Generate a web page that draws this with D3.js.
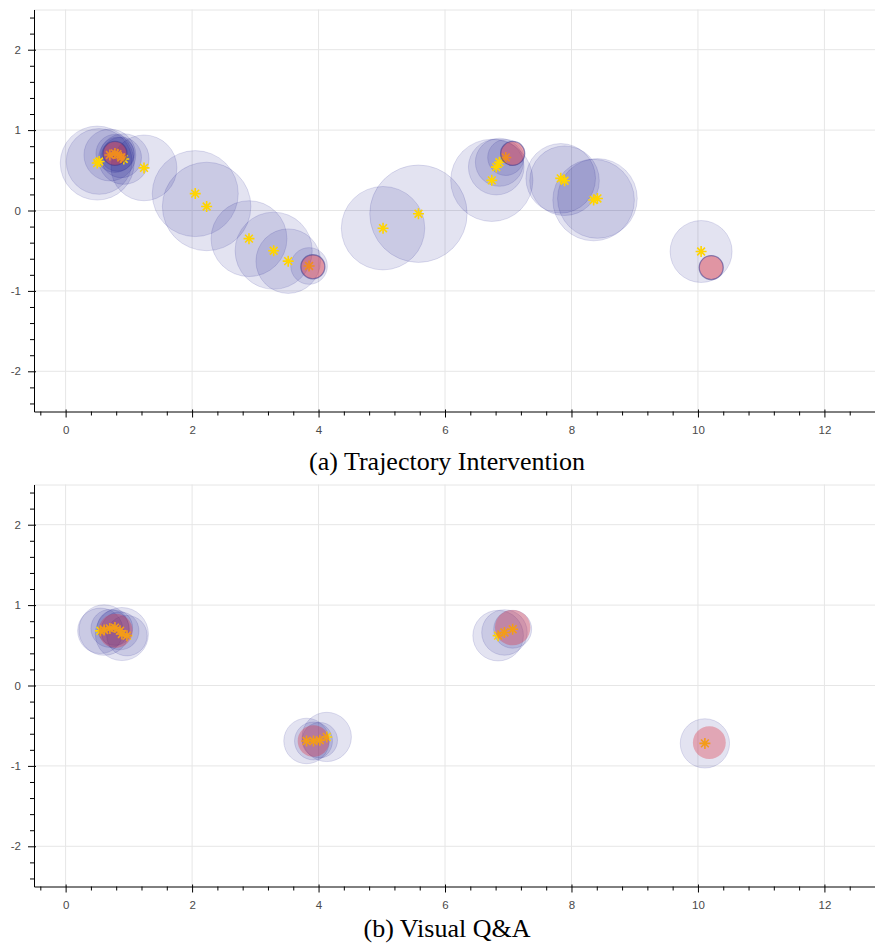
<!DOCTYPE html>
<html>
<head>
<meta charset="utf-8">
<script src="https://cdn.jsdelivr.net/npm/d3@7"></script>
<style>
  body { margin: 0; background: #fff; }
  .tick text { font-family: "Liberation Sans", Arial, sans-serif; font-size: 11.5px; fill: #4a4a4a; }
</style>
</head>
<body>
<div id="canvas"></div>
<script>
// tick labels
const xMajor = [0, 2, 4, 6, 8, 10, 12];
const yMajor = [-2, -1, 0, 1, 2];

// (a) Trajectory Intervention: predicted points + uncertainty radius (x units)
const aStarX = [0.50, 0.53, 0.70, 0.78, 0.82, 0.88, 0.92, 1.24, 2.05, 2.23, 2.90, 3.29, 3.52, 3.85,
                5.02, 5.58, 6.74, 6.81, 6.86, 6.96, 7.83, 7.89, 8.35, 8.41, 10.05];
const aStarY = [0.59, 0.61, 0.69, 0.71, 0.70, 0.66, 0.64, 0.53, 0.21, 0.05, -0.35, -0.50, -0.63, -0.69,
                -0.22, -0.04, 0.375, 0.54, 0.60, 0.66, 0.40, 0.37, 0.13, 0.15, -0.51];
const aRadius = [0.585, 0.52, 0.41, 0.30, 0.27, 0.32, 0.40, 0.52, 0.68, 0.70, 0.60, 0.61, 0.51, 0.29,
                 0.66, 0.77, 0.65, 0.44, 0.38, 0.285, 0.55, 0.55, 0.645, 0.63, 0.49];
const aGoalX = [0.78, 3.91, 7.07, 10.21];
const aGoalY = [0.71, -0.70, 0.71, -0.71];
const aGoalR = [0.19, 0.19, 0.19, 0.19];

// (b) Visual Q&A
const bStarX = [0.55, 0.61, 0.70, 0.78, 0.86, 0.89, 0.97, 3.81, 3.92, 4.02, 4.13, 6.84, 6.94, 7.07, 10.11];
const bStarY = [0.68, 0.69, 0.71, 0.72, 0.68, 0.64, 0.62, -0.69, -0.69, -0.68, -0.64, 0.62, 0.66, 0.70, -0.72];
const bRadius = [0.36, 0.40, 0.30, 0.28, 0.30, 0.42, 0.32, 0.36, 0.30, 0.28, 0.39, 0.40, 0.36, 0.30, 0.39];
const bGoalX = [0.79, 3.92, 7.07, 10.18];
const bGoalY = [0.68, -0.69, 0.72, -0.71];
const bGoalR = [0.27, 0.25, 0.28, 0.26];

const width = 875;
const height = 951;
const svg = d3.select("#canvas").append("svg").attr("width", width).attr("height", height);

const margin = {left: 34, right: 0};
const iwidth = width - margin.left - margin.right;
const iheight = 402;

const x = d3.scaleLinear().domain([-0.5, 12.8]).range([0, iwidth]);
const y = d3.scaleLinear().domain([-2.5, 2.5]).range([iheight, 0]);

const xMinor = d3.range(-0.4, 12.81, 0.4).filter(v => Math.abs(v / 2 - Math.round(v / 2)) > 0.01);
const yMinor = d3.range(-2.4, 2.41, 0.2).filter(v => Math.abs(v - Math.round(v)) > 0.01);

function asterisk(s) {
  let p = "";
  for (let i = 0; i < 4; i++) {
    const a = i * Math.PI / 4;
    const dx = Math.cos(a) * s, dy = Math.sin(a) * s;
    p += `M${-dx},${-dy}L${dx},${dy}`;
  }
  return p;
}

function panel(top, sx, sy, sr, gx, gy, gr, goalStroke, caption, capY) {
  const g = svg.append("g").attr("transform", `translate(${margin.left},${top})`);

  // grid
  g.append("g").selectAll("line").data(xMajor).join("line")
    .attr("x1", d => x(d)).attr("x2", d => x(d)).attr("y1", 0).attr("y2", iheight)
    .attr("stroke", "#e6e6e6");
  g.append("g").selectAll("line").data(yMajor).join("line")
    .attr("x1", 0).attr("x2", iwidth).attr("y1", d => y(d)).attr("y2", d => y(d))
    .attr("stroke", "#e6e6e6");
  g.append("line").attr("x1", 0).attr("x2", iwidth).attr("y1", 0.5).attr("y2", 0.5)
    .attr("stroke", "#e6e6e6");

  const pts = sx.map((v, i) => ({x: v, y: sy[i], r: sr[i]}));
  const goals = gx.map((v, i) => ({x: v, y: gy[i], r: gr[i]}));

  // uncertainty circles
  g.append("g").selectAll("circle").data(pts).join("circle")
    .attr("cx", d => x(d.x)).attr("cy", d => y(d.y))
    .attr("r", d => x(d.r) - x(0))
    .attr("fill", "navy").attr("fill-opacity", 0.11)
    .attr("stroke", "navy").attr("stroke-opacity", 0.12);

  // predicted points
  g.append("g").selectAll("path").data(pts).join("path")
    .attr("transform", d => `translate(${x(d.x)},${y(d.y)})`)
    .attr("d", asterisk(5.5))
    .attr("stroke", "#ffd400").attr("stroke-width", 1.6).attr("fill", "none");

  // goals
  g.append("g").selectAll("circle").data(goals).join("circle")
    .attr("cx", d => x(d.x)).attr("cy", d => y(d.y))
    .attr("r", d => x(d.r) - x(0))
    .attr("fill", "#dc3545").attr("fill-opacity", goalStroke ? 0.45 : 0.35)
    .attr("stroke", goalStroke ? "#3b3b8f" : "none").attr("stroke-opacity", 0.55)
    .attr("stroke-width", 1.3);

  // axes
  g.append("g").attr("transform", `translate(0,${iheight})`)
    .call(d3.axisBottom(x).tickValues(xMinor).tickSize(4).tickFormat(""))
    .call(a => a.select(".domain").remove());
  g.append("g").attr("transform", `translate(0,${iheight})`)
    .call(d3.axisBottom(x).tickValues(xMajor).tickSizeOuter(0).tickSizeInner(6).tickPadding(8).tickFormat(d => String(d)))
    .call(a => a.selectAll(".tick line").attr("y1", -2));
  g.append("g")
    .call(d3.axisLeft(y).tickValues(yMinor).tickSize(4).tickFormat(""))
    .call(a => a.select(".domain").remove());
  g.append("g")
    .call(d3.axisLeft(y).tickValues(yMajor).tickSizeOuter(0).tickSizeInner(6).tickPadding(7).tickFormat(d => String(d)))
    .call(a => a.selectAll(".tick line").attr("x1", 2));

  svg.append("text").attr("x", 447).attr("y", capY).attr("text-anchor", "middle")
    .style("font-family", "'Liberation Serif', 'Times New Roman', serif").style("font-size", "26px")
    .text(caption);
}

panel(9.5, aStarX, aStarY, aRadius, aGoalX, aGoalY, aGoalR, true, "(a) Trajectory Intervention", 470);
panel(484.5, bStarX, bStarY, bRadius, bGoalX, bGoalY, bGoalR, false, "(b) Visual Q&A", 937);
</script>
</body>
</html>
